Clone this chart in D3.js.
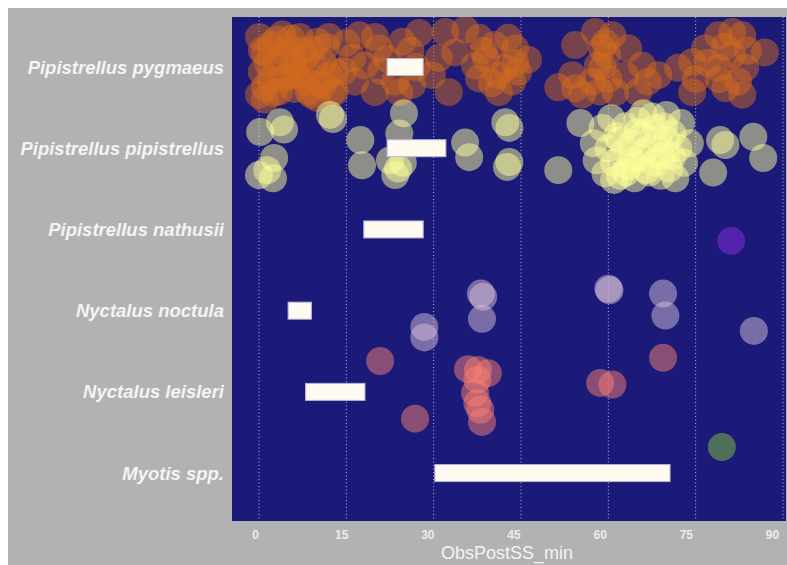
<!DOCTYPE html>
<html>
<head>
<meta charset="utf-8">
<script src="https://cdn.jsdelivr.net/npm/d3@7"></script>
<style>
  html, body { margin: 0; padding: 0; background: #ffffff; }
  svg { display: block; }
</style>
</head>
<body>
<svg id="chart" width="787" height="565"></svg>
<script>
// ---------------- DATA ----------------
const categories = ["Pipistrellus pygmaeus", "Pipistrellus pipistrellus", "Pipistrellus nathusii",
                    "Nyctalus noctula", "Nyctalus leisleri", "Myotis spp."];
const pointColors = ["#d2691e", "#ffff99", "#8a2be2", "#d8bfd8", "#fa8072", "#83c240"];
const xTicks = [0, 15, 30, 45, 60, 75, 90];
const xTitle = "ObsPostSS_min";

// white bars: [low, high] in minutes
const barLow  = [22.0, 22.0, 18.0, 5.0, 8.0, 30.2];
const barHigh = [28.2, 32.1, 28.2, 9.0, 18.2, 70.6];

// observations: [minutes after sunset, vertical jitter (category units)]
const pygmaeusObs = [
  [0,-0.37],[1,-0.18],[0.5,0.06],[1,0.25],[0,0.34],[3,-0.34],[3,-0.06],[4,0.15],[2.5,0.32],[5,-0.25],
  [6,0],[6,0.27],[7,-0.37],[8,-0.12],[8,0.18],[9,0.34],[10,-0.31],[11,-0.06],[11,0.22],[12,-0.37],
  [13,0.06],[13,0.31],[2,-0.27],[5,0.12],[9,-0.22],[7,0.1],
  [1.5,-0.05],[2,0.15],[3.5,0.3],[4.5,-0.15],[5.5,-0.35],[6.5,0.1],[7.5,-0.2],[8.5,0.3],[9.5,0],[10.5,0.2],
  [11.5,-0.25],[12,0.1],[4,-0.4],[0.5,-0.2],[1,0.4],[10,0.38],[6,-0.1],
  [17.2,-0.39],[19.9,-0.37],[20.6,-0.23],[16.0,-0.11],[18.2,-0.02],[16.5,0.18],[19.9,0.31],[12.5,0.31],[23.4,0.18],
  [15,-0.3],[21,0.05],[22,-0.1],[14.5,0.05],[27,0],[26,-0.2],
  [24.6,-0.31],[27.5,-0.42],[26.3,0.22],[29.7,0.10],[30.9,-0.11],[24.1,0.31],
  [32,-0.43],[35.4,-0.46],[33.7,-0.18],[37.8,-0.36],[40.5,-0.27],[37.1,-0.02],[32.6,0.31],[37.8,0.14],[41.2,0.31],[42.3,0.01],
  [39,-0.1],[41,0.1],[40,0.2],[44,-0.05],[38.5,-0.2],
  [42.8,-0.36],[44,-0.23],[44.5,0.06],[43.5,0.18],[46.2,-0.09],
  [51.4,0.25],[54.3,0.26],[54.3,-0.27],[57.7,-0.43],[58.9,-0.23],[58.2,-0.02],[57.2,0.18],[60.7,-0.39],[63.4,-0.23],
  [62.9,0.10],[65.8,-0.02],[66.8,0.18],[65.1,0.31],[61.2,0.31],[68.6,0.10],[53.8,0.10],[55.5,0.34],
  [59.5,-0.3],[59,0],[60,0.15],[59.8,-0.15],[58.5,0.3],
  [72,0.01],[74.4,-0.06],[74.4,0.31],[76.6,-0.23],[78.9,-0.39],[81.3,-0.43],[83,-0.39],[78.9,0.01],[81.3,-0.15],
  [83.5,0.01],[82.3,0.18],[83,0.34],[86.9,-0.18],[80.1,0.26],
  [77,-0.05],[80,-0.25],[84,-0.2],[79,0.15],[75,0.15]
];
const pipistrellusObs = [
  [0.2,-0.20],[3.6,-0.32],[4.3,-0.23],[2.6,0.12],[0,0.33],[2.4,0.37],[1.4,0.27],
  [12.2,-0.41],[12.7,-0.36],[17.4,-0.10],[17.7,0.21],
  [22.5,0.15],[23.9,0.25],[24.7,0.18],[23.4,0.33],[24.9,-0.43],[24.1,-0.18],
  [35.4,-0.07],[36.1,0.11],[42.3,-0.32],[43,-0.25],[43,0.17],[42.6,0.23],
  [55.2,-0.31],[51.4,0.27],[79.2,-0.10],[80.1,-0.04],[84.9,-0.14],[86.6,0.12],[78,0.30],
  [57.5,-0.06],[58,0.15],[59,-0.25],[59.5,0.31],[60,0],[60.5,-0.37],[61,0.18],[61.5,-0.15],[62,0.34],[62.5,0.06],
  [63,-0.27],[63.5,0.22],[64,-0.06],[64.5,0.37],[65,-0.34],[65.5,0.12],[66,-0.18],[66.5,0.27],[67,0],[67.5,-0.39],
  [68,0.18],[68.5,-0.12],[69,0.34],[69.5,-0.27],[70,0.06],[70.5,0.25],[71,-0.18],[71.5,0.37],[72,0],[72.5,-0.31],
  [73,0.18],[74,-0.06],[61,0.39],[66,-0.43],[70,-0.41],
  [62,-0.1],[64,0.15],[66,0.05],[68,-0.25],[70,-0.1],[63,0.3],[67,0.3],[65,-0.2],[69,0.1],[71,0.1]
];
const nathusiiObs = [[81.1,0.14]];
const noctulaObs = [
  [38.1,-0.21],[38.5,-0.17],[38.3,0.10],[28.4,0.20],[28.4,0.33],[60.0,-0.27],[60.2,-0.25],[69.4,-0.21],[69.8,0.06],[85.0,0.25]
];
const leisleriObs = [
  [20.8,-0.38],[26.8,0.33],[35.9,-0.28],[37.6,-0.27],[39.3,-0.23],[37.5,-0.15],[37.1,0.01],[37.5,0.14],[38.0,0.22],[38.3,0.37],
  [58.6,-0.11],[60.7,-0.09],[69.4,-0.42]
];
const myotisObs = [[79.5,-0.32]];
const allObs = [pygmaeusObs, pipistrellusObs, nathusiiObs, noctulaObs, leisleriObs, myotisObs];

// ---------------- LAYOUT ----------------
const W = 787, H = 565;
const plot = { left: 232, right: 786, top: 17, bottom: 521 };
const FONT = "Liberation Sans, Arial, sans-serif";

const svg = d3.select("#chart");

svg.append("rect").attr("x", 8).attr("y", 8).attr("width", W - 8).attr("height", H - 8).attr("fill", "#b2b2b2");
svg.append("rect").attr("x", plot.left).attr("y", plot.top)
  .attr("width", plot.right - plot.left).attr("height", plot.bottom - plot.top).attr("fill", "#1b1a78");

const x = d3.scaleLinear().domain([0, 90]).range([259, 783]);
const xLabel = d3.scaleLinear().domain([0, 90]).range([255, 772]);
const y = d3.scaleLinear().domain([-0.616, 5.59]).range([plot.top, plot.bottom]);

svg.append("defs").append("clipPath").attr("id", "clip")
  .append("rect").attr("x", plot.left).attr("y", plot.top)
  .attr("width", plot.right - plot.left).attr("height", plot.bottom - plot.top);

// dotted vertical gridlines
svg.append("g").selectAll("line").data(xTicks).join("line")
  .attr("x1", d => x(d)).attr("x2", d => x(d))
  .attr("y1", plot.top).attr("y2", plot.bottom)
  .attr("stroke", "#d8d8f0").attr("stroke-width", 1).attr("stroke-dasharray", "1,2.5").attr("opacity", 0.85);

// points
const pts = svg.append("g").attr("clip-path", "url(#clip)");
allObs.forEach((obs, i) => {
  pts.append("g").selectAll("circle").data(obs).join("circle")
    .attr("cx", d => x(d[0]))
    .attr("cy", d => y(i + d[1]))
    .attr("r", 14)
    .attr("fill", pointColors[i])
    .attr("fill-opacity", 0.5);
});

// white bars
svg.append("g").selectAll("rect").data(categories).join("rect")
  .attr("x", (d, i) => x(barLow[i]))
  .attr("width", (d, i) => x(barHigh[i]) - x(barLow[i]))
  .attr("y", (d, i) => y(i) - 8.5)
  .attr("height", 17)
  .attr("fill", "#fffaf0")
  .attr("stroke", "#b9b4d8").attr("stroke-width", 1);

// y category labels
svg.append("g").selectAll("text").data(categories).join("text")
  .attr("x", 224)
  .attr("y", (d, i) => y(i))
  .attr("dy", "0.35em")
  .attr("text-anchor", "end")
  .attr("font-family", FONT)
  .attr("font-weight", "bold")
  .attr("font-style", "italic")
  .attr("font-size", 18.5)
  .attr("fill", "#f4f4f4")
  .text(d => d);

// x axis tick labels
const xAxis = d3.axisBottom(xLabel).tickValues(xTicks).tickSize(0).tickPadding(0);
const gx = svg.append("g").attr("transform", `translate(0, ${plot.bottom + 9})`).call(xAxis);
gx.select(".domain").remove();
gx.selectAll("text")
  .attr("font-family", FONT)
  .attr("font-size", 12)
  .attr("font-weight", "bold")
  .attr("fill", "#ececec");

// x axis title
svg.append("text")
  .attr("x", 507).attr("y", 559)
  .attr("text-anchor", "middle")
  .attr("font-family", FONT)
  .attr("font-size", 18)
  .attr("fill", "#f4f4f4")
  .text(xTitle);
</script>
</body>
</html>
